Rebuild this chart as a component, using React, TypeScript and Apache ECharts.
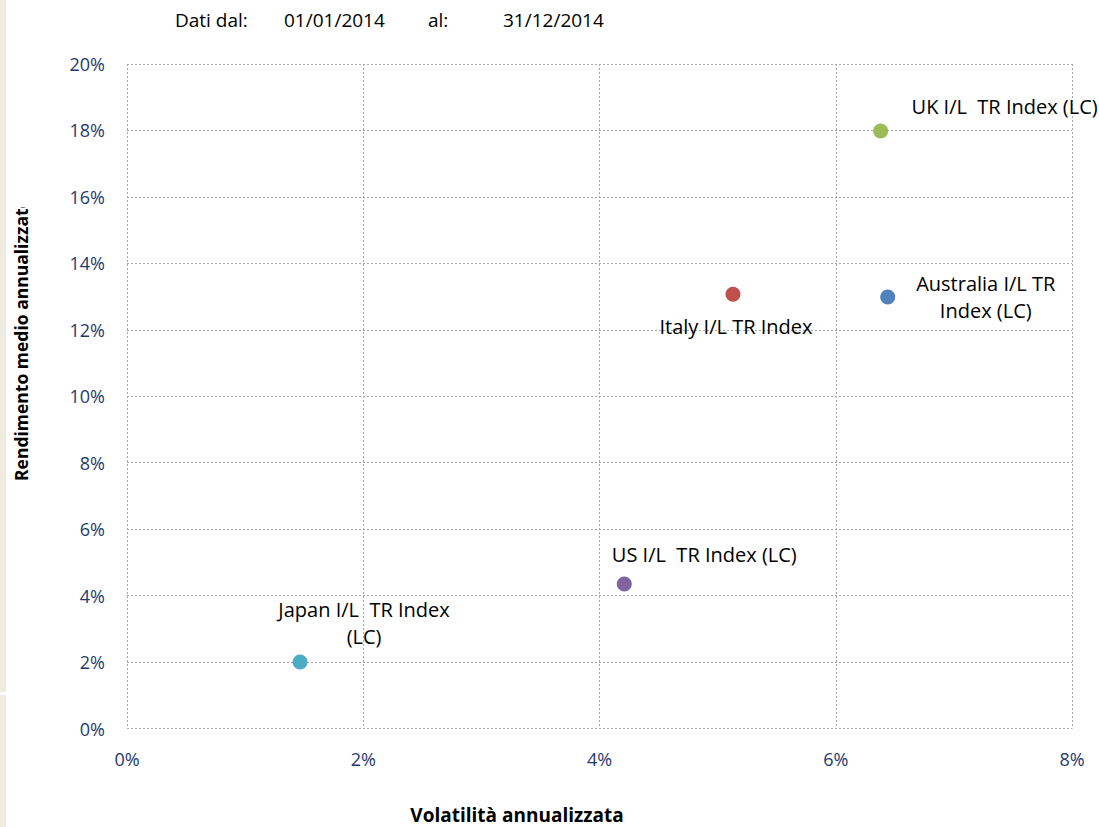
import React, { useEffect, useRef } from "react";
import * as echarts from "echarts";

const names = [
  "UK I/L  TR Index (LC)",
  "Australia I/L TR\nIndex (LC)",
  "Italy I/L TR Index",
  "US I/L  TR Index (LC)",
  "Japan I/L  TR Index\n(LC)",
];
const volatility = [0.0638, 0.0644, 0.0513, 0.0421, 0.01465];
const returns = [0.1798, 0.1299, 0.1307, 0.0435, 0.02];
const colors = ["#9BBB59", "#4F81BD", "#C0504D", "#8064A2", "#4BACC6"];
const labelOffsets = [
  [124, -25],
  [98, 0],
  [3, 32],
  [80, -29],
  [64, -39],
];
const xTicks = [0, 0.08, 0.02];
const yTicks = [0, 0.2, 0.02];
const headerTexts = [
  { text: "Dati dal:", x: 175 },
  { text: "01/01/2014", x: 284 },
  { text: "al:", x: 428 },
  { text: "31/12/2014", x: 503 },
];

const FONT = "'Open Sans', sans-serif";
const INK = "#000000";
const TICK = "#1F3A6E";

export default function App() {
  const ref = useRef<HTMLDivElement>(null);
  useEffect(() => {
    document.body.style.margin = "0";
    const chart = echarts.init(ref.current!, null, { renderer: "svg" });
    const pct = (v: number) => `${Math.round(v * 100)}%`;
    const grid = { color: "#A6A6A6", type: [2, 2], width: 1 };
    chart.setOption({
      animation: false,
      backgroundColor: "#ffffff",
      textStyle: { fontFamily: FONT },
      grid: { left: 127, right: 27, top: 64, bottom: 98.5, containLabel: false },
      xAxis: {
        type: "value",
        min: xTicks[0],
        max: xTicks[1],
        interval: xTicks[2],
        axisLine: { show: false },
        axisTick: { show: false },
        axisLabel: { formatter: pct, color: TICK, fontSize: 18, fontFamily: FONT, margin: 21 },
        splitLine: { show: true, showMinLine: true, showMaxLine: true, lineStyle: grid },
      },
      yAxis: {
        type: "value",
        min: yTicks[0],
        max: yTicks[1],
        interval: yTicks[2],
        axisLine: { show: false },
        axisTick: { show: false },
        axisLabel: { formatter: pct, color: TICK, fontSize: 18, fontFamily: FONT, margin: 22 },
        splitLine: { show: true, showMinLine: true, showMaxLine: true, lineStyle: grid },
      },
      series: [
        {
          type: "scatter",
          symbol: "circle",
          symbolSize: 15,
          data: names.map((n, i) => ({
            name: n,
            value: [volatility[i], returns[i]],
            itemStyle: { color: colors[i], opacity: 1 },
            label: {
              show: true,
              formatter: n,
              position: "inside",
              offset: labelOffsets[i],
              align: "center",
              verticalAlign: "middle",
              color: INK,
              fontSize: 20,
              lineHeight: 27,
              fontFamily: FONT,
            },
          })),
        },
      ],
      graphic: [
        { type: "rect", shape: { x: 0, y: 0, width: 6, height: 692 }, style: { fill: "#EEECE1" } },
        { type: "rect", shape: { x: 0, y: 695, width: 6, height: 132 }, style: { fill: "#EEECE1" } },
        ...headerTexts.map((h) => ({
          type: "text",
          x: h.x,
          y: 20,
          style: {
            text: h.text,
            fill: INK,
            font: `19px ${FONT}`,
            textVerticalAlign: "middle",
          },
        })),
        {
          type: "text",
          x: 517,
          y: 815,
          style: {
            text: "Volatilità annualizzata",
            fill: INK,
            font: `bold 19px ${FONT}`,
            textAlign: "center",
            textVerticalAlign: "middle",
          },
        },
        {
          type: "text",
          x: 21,
          y: 481,
          rotation: Math.PI / 2,
          style: {
            text: "Rendimento medio annualizzato",
            fill: INK,
            font: `bold 17.5px ${FONT}`,
            textAlign: "left",
            textVerticalAlign: "middle",
          },
          z: 1,
        },
        { type: "rect", shape: { x: 8, y: 120, width: 30, height: 87 }, style: { fill: "#ffffff" }, z: 2 },
      ],
    });
    return () => chart.dispose();
  }, []);
  return <div ref={ref} style={{ width: 1099, height: 827 }} />;
}
